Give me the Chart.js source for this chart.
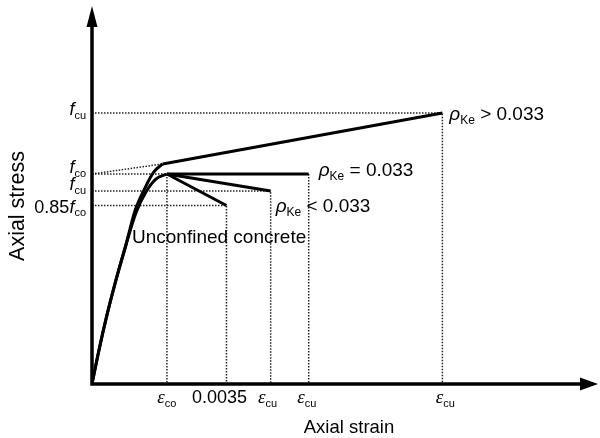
<!DOCTYPE html>
<html>
<head>
<meta charset="utf-8">
<script src="https://cdn.jsdelivr.net/npm/chart.js@4.4.1/dist/chart.umd.min.js"></script>
<style>
  html, body { margin: 0; padding: 0; background: #fff; }
  canvas { display: block; }
</style>
</head>
<body>
<canvas id="chart" width="600" height="438"></canvas>
<script>
// schematic: strain in per mille, stress as a multiple of fco
const strainTicks = [1.95, 3.5, 4.65, 5.64, 9.12];
const strainTickLabels = ['ε_co', '0.0035', 'ε_cu', 'ε_cu', 'ε_cu'];
const stressTicks = [1.29, 1.0, 0.919, 0.85];
const stressTickLabels = ['f_cu', 'f_co', 'f_cu', '0.85f_co'];

// rising branch shared by unconfined and lightly confined concrete
const riseX = [0, 0.182, 0.39, 0.623, 0.883, 1.143, 1.403, 1.662, 1.95];
const riseY = [0, 0.162, 0.329, 0.495, 0.662, 0.814, 0.914, 0.976, 1.0];
// rising branch of well confined concrete, up to the kink
const riseConfX = [0, 0.182, 0.39, 0.623, 0.883, 1.117, 1.377, 1.61, 1.84];
const riseConfY = [0, 0.162, 0.329, 0.495, 0.662, 0.824, 0.933, 1.01, 1.048];

// straight branches after the peak
const unconfX = [1.95, 3.5],  unconfY = [1.0, 0.85];
const lowX = [1.95, 4.65],    lowY = [1.0, 0.919];
const eqX = [1.95, 5.64],     eqY = [1.0, 1.0];
const highX = [1.84, 9.12],   highY = [1.048, 1.29];

const notes = [
  { text: 'ρ_Ke > 0.033', x: 9.3, y: 1.255 },
  { text: 'ρ_Ke = 0.033', x: 5.9, y: 0.99 },
  { text: 'ρ_Ke < 0.033', x: 4.78, y: 0.818 },
  { text: 'Unconfined concrete', x: 1.04, y: 0.67 }
];

// small hand nudges for the axis labels (px)
const xLabelDx = [0, -7, -3, -2, 3];
const yLabelDy = [2, -1, -1, 7];

const pts = (xs, ys) => xs.map((x, i) => ({ x: x, y: ys[i] }));
const corner = (x, y) => [{ x: 0, y: y }, { x: x, y: y }, { x: x, y: 0 }];

function curve(data, smooth) {
  return {
    data: data, showLine: true, pointRadius: 0, borderColor: '#000',
    borderWidth: 3, cubicInterpolationMode: smooth ? 'monotone' : 'default',
    tension: 0, order: 1
  };
}
function guide(data) {
  return {
    data: data, showLine: true, pointRadius: 0, borderColor: '#222',
    borderWidth: 1.5, borderDash: [1.5, 1.5], tension: 0, order: 2
  };
}

const datasets = [
  guide(corner(highX[1], highY[1])),
  guide([{ x: 0, y: eqY[0] }, { x: highX[0], y: highY[0] }]),
  guide(corner(eqX[0], eqY[0])),
  guide([{ x: eqX[1], y: eqY[1] }, { x: eqX[1], y: 0 }]),
  guide(corner(lowX[1], lowY[1])),
  guide(corner(unconfX[1], unconfY[1])),
  curve(pts(riseX, riseY), true),
  curve(pts(riseConfX, riseConfY), true),
  curve(pts(unconfX, unconfY)),
  curve(pts(lowX, lowY)),
  curve(pts(eqX, eqY)),
  curve(pts(highX, highY))
];

const SANS = '"Liberation Sans", Arial, sans-serif';

// split "ρ_Ke > 0.033" into runs: italic symbol before a subscript, subscripts, plain text
function runs(str, size) {
  const out = [];
  const segs = str.split(/_(\S+)/);
  segs.forEach((s, i) => {
    if (!s) return;
    if (i % 2) {
      out.push({ t: s, font: Math.round(size * 0.63) + 'px ' + SANS, dy: size * 0.2 });
      return;
    }
    const hasSub = i + 1 < segs.length;
    const head = hasSub ? s.slice(0, -1) : s;
    const sym = hasSub ? s.slice(-1) : '';
    if (head) out.push({ t: head, font: size + 'px ' + SANS, dy: 0 });
    if (sym) {
      const font = sym === 'ε'
        ? 'italic ' + (size + 1) + 'px "Liberation Serif", serif'
        : 'italic ' + size + 'px ' + SANS;
      out.push({ t: sym, font: font, dy: 0 });
    }
  });
  return out;
}

function drawRich(ctx, str, x, y, size, align) {
  const rs = runs(str, size);
  let w = 0;
  rs.forEach(r => { ctx.font = r.font; r.w = ctx.measureText(r.t).width; w += r.w; });
  let cx = align === 'right' ? x - w : align === 'center' ? x - w / 2 : x;
  ctx.textAlign = 'left';
  ctx.textBaseline = 'alphabetic';
  rs.forEach(r => { ctx.font = r.font; ctx.fillText(r.t, cx, y + r.dy); cx += r.w; });
}

const decor = {
  id: 'decor',
  afterDatasetsDraw(chart) {
    const { ctx, chartArea: a, scales: { x, y } } = chart;
    ctx.save();
    ctx.strokeStyle = '#000';
    ctx.fillStyle = '#000';
    ctx.lineWidth = 3.5;
    ctx.beginPath();
    ctx.moveTo(a.left, a.bottom);
    ctx.lineTo(a.right - 12, a.bottom);
    ctx.moveTo(a.left, a.bottom + 1.75);
    ctx.lineTo(a.left, a.top + 14);
    ctx.stroke();
    ctx.beginPath();
    ctx.moveTo(a.right, a.bottom);
    ctx.lineTo(a.right - 18, a.bottom - 6.5);
    ctx.lineTo(a.right - 18, a.bottom + 6.5);
    ctx.closePath();
    ctx.fill();
    ctx.beginPath();
    ctx.moveTo(a.left, a.top);
    ctx.lineTo(a.left - 5.5, a.top + 21);
    ctx.lineTo(a.left + 5.5, a.top + 21);
    ctx.closePath();
    ctx.fill();

    strainTicks.forEach((v, i) => {
      drawRich(ctx, strainTickLabels[i], x.getPixelForValue(v) + xLabelDx[i], 403, 18, 'center');
    });
    stressTicks.forEach((v, i) => {
      drawRich(ctx, stressTickLabels[i], a.left - 6, y.getPixelForValue(v) + yLabelDy[i], 18, 'right');
    });
    notes.forEach(n => {
      drawRich(ctx, n.text, x.getPixelForValue(n.x), y.getPixelForValue(n.y), 19, 'left');
    });

    ctx.font = '18.5px ' + SANS;
    ctx.textAlign = 'center';
    ctx.fillText('Axial strain', (a.left + a.right) / 2 + 4, 433);
    ctx.translate(24, 206);
    ctx.rotate(-Math.PI / 2);
    ctx.font = '21.5px ' + SANS;
    ctx.fillText('Axial stress', 0, 0);
    ctx.restore();
  }
};

new Chart(document.getElementById('chart'), {
  type: 'scatter',
  data: { datasets: datasets },
  options: {
    responsive: false,
    devicePixelRatio: 1,
    animation: false,
    layout: { padding: { left: 92, right: 2, top: 6, bottom: 54 } },
    plugins: { legend: { display: false }, tooltip: { enabled: false } },
    scales: {
      x: { type: 'linear', min: 0, max: 13.17, display: false },
      y: { type: 'linear', min: 0, max: 1.8, display: false }
    }
  },
  plugins: [decor]
});
</script>
</body>
</html>
